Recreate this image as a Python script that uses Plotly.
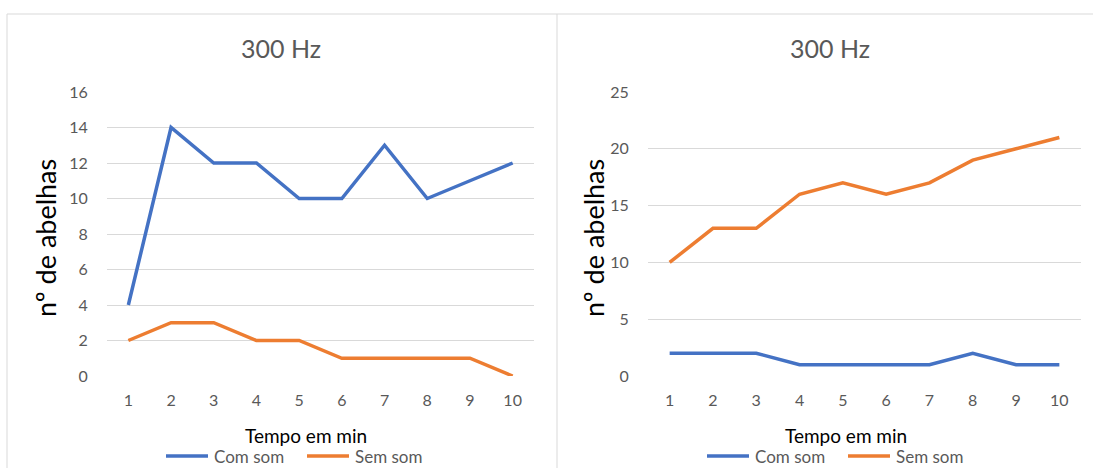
import plotly.graph_objects as go

minutes = [1, 2, 3, 4, 5, 6, 7, 8, 9, 10]

# left panel
left_com_som = [4, 14, 12, 12, 10, 10, 13, 10, 11, 12]
left_sem_som = [2, 3, 3, 2, 2, 1, 1, 1, 1, 0]

# right panel
right_com_som = [2, 2, 2, 1, 1, 1, 1, 2, 1, 1]
right_sem_som = [10, 13, 13, 16, 17, 16, 17, 19, 20, 21]

series_names = ["Com som", "Sem som"]
chart_title = "300 Hz"
x_title = "Tempo em min"
y_title = "nº de abelhas"

BLUE = "#4472C4"
ORANGE = "#ED7D31"
GRID = "#D9D9D9"
TEXT = "#595959"
FONT = "Lato"

W, H = 1093, 468


def px(x):
    return x / W


def py(y):
    return 1 - y / H


fig = go.Figure()

panels = [
    ("x", "y", [left_com_som, left_sem_som]),
    ("x2", "y2", [right_com_som, right_sem_som]),
]
for xa, ya, series in panels:
    for name, values, color in zip(series_names, series, [BLUE, ORANGE]):
        fig.add_trace(go.Scatter(x=minutes, y=values, name=name, mode="lines",
                                 line=dict(color=color, width=3.5),
                                 xaxis=xa, yaxis=ya, showlegend=False))

ydom = [py(376), py(92)]

xaxis_common = dict(range=[0.5, 10.5], tickvals=minutes, showgrid=False,
                    zeroline=False, showline=False, ticks="outside", ticklen=0,
                    tickcolor="rgba(0,0,0,0)", ticklabelstandoff=10, automargin=False,
                    tickfont=dict(family=FONT, size=16, color=TEXT), fixedrange=True)
yaxis_common = dict(showgrid=True, gridcolor=GRID, gridwidth=1, zeroline=False,
                    showline=False, ticks="outside", ticklen=0, automargin=False,
                    tickcolor="rgba(0,0,0,0)", ticklabelstandoff=15,
                    tickfont=dict(family=FONT, size=16, color=TEXT), fixedrange=True)

fig.update_layout(
    width=W, height=H,
    margin=dict(l=0, r=0, t=0, b=0, autoexpand=False),
    paper_bgcolor="white", plot_bgcolor="white",
    showlegend=False,
    xaxis=dict(domain=[px(107), px(534)], anchor="y", **xaxis_common),
    yaxis=dict(domain=ydom, anchor="x", range=[0, 16], dtick=2, **yaxis_common),
    xaxis2=dict(domain=[px(648), px(1081)], anchor="y2", **xaxis_common),
    yaxis2=dict(domain=ydom, anchor="x2", range=[0, 25], dtick=5, **yaxis_common),
)

annotations = []
shapes = []
# (title x, y-title x, x-title x, legend start x) for each panel
for cx, ycx, xtx, lx in [(281, 45, 306, 166), (830, 593, 846, 707)]:
    annotations.append(dict(text=chart_title, x=px(cx), y=py(48), xref="paper", yref="paper",
                            showarrow=False, xanchor="center", yanchor="middle",
                            font=dict(family=FONT, size=25, color=TEXT)))
    annotations.append(dict(text=y_title, x=px(ycx), y=py(238), xref="paper", yref="paper",
                            showarrow=False, xanchor="center", yanchor="middle", textangle=-90,
                            font=dict(family=FONT, size=27, color="black")))
    annotations.append(dict(text=x_title, x=px(xtx), y=py(435), xref="paper", yref="paper",
                            showarrow=False, xanchor="center", yanchor="middle",
                            font=dict(family=FONT, size=19, color="black")))
    # legend: line sample followed by series name
    for i, (name, color) in enumerate(zip(series_names, [BLUE, ORANGE])):
        x0 = lx + i * 141
        shapes.append(dict(type="line", xref="paper", yref="paper",
                           x0=px(x0), x1=px(x0 + 42), y0=py(456), y1=py(456),
                           line=dict(color=color, width=3.5)))
        annotations.append(dict(text=name, x=px(x0 + 46), y=py(456), xref="paper", yref="paper",
                                showarrow=False, xanchor="left", yanchor="middle",
                                font=dict(family=FONT, size=17, color=TEXT)))

# panel frames
border = dict(color=GRID, width=1)
shapes += [
    dict(type="line", xref="paper", yref="paper", x0=px(7), x1=1, y0=py(14), y1=py(14), line=border),
    dict(type="line", xref="paper", yref="paper", x0=px(7), x1=px(7), y0=py(14), y1=0, line=border),
    dict(type="line", xref="paper", yref="paper", x0=px(557), x1=px(557), y0=py(14), y1=0, line=border),
]
fig.update_layout(annotations=annotations, shapes=shapes)

fig.write_html("out.html")
